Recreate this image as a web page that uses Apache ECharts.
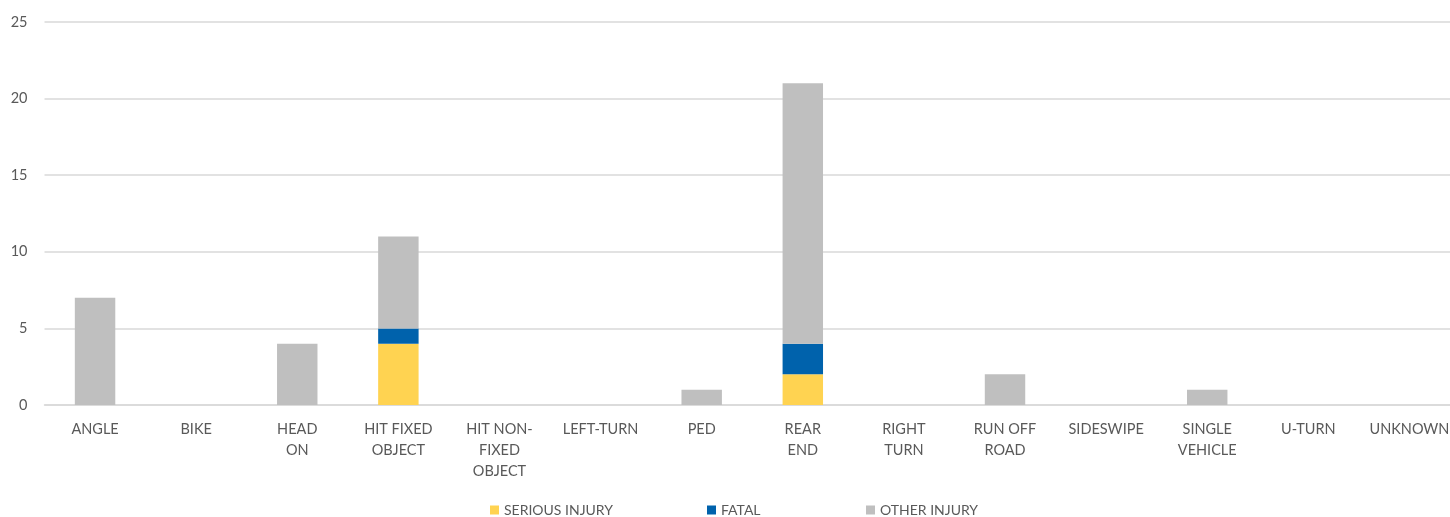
<!DOCTYPE html>
<html><head><meta charset="utf-8">
<script src="https://cdn.jsdelivr.net/npm/echarts@6/dist/echarts.min.js"></script>
<style>html,body{margin:0;padding:0;background:#fff}#c{width:1450px;height:517px}</style>
</head><body><div id="c"></div>
<script>
const categories = ['ANGLE','BIKE','HEAD\nON','HIT FIXED\nOBJECT','HIT NON-\nFIXED\nOBJECT','LEFT-TURN','PED','REAR\nEND','RIGHT\nTURN','RUN OFF\nROAD','SIDESWIPE','SINGLE\nVEHICLE','U-TURN','UNKNOWN'];
const seriousInjury = [0,0,0,4,0,0,0,2,0,0,0,0,0,0];
const fatal         = [0,0,0,1,0,0,0,2,0,0,0,0,0,0];
const otherInjury   = [7,0,4,6,0,0,1,17,0,2,0,1,0,0];
const yTicks = [0,5,10,15,20,25];

const font = 'Lato, "Open Sans", sans-serif';
const chart = echarts.init(document.getElementById('c'));
const mk = (name, data, color) => ({
  name, type:'bar', stack:'a', data, barWidth:'40%',
  itemStyle:{color}, emphasis:{disabled:true}
});
const leg = (name, left) => ({
  data:[name], left, top:503, icon:'rect', itemWidth:9, itemHeight:9, itemGap:0, padding:0,
  textStyle:{color:'#595959', fontSize:14, fontFamily:font}
});
chart.setOption({
  animation:false,
  grid:{left:44.5, width:1415.5, top:22, bottom:112, outerBoundsMode:'none', containLabel:false},
  legend:[leg('SERIOUS INJURY',490), leg('FATAL',707), leg('OTHER INJURY',866)],
  xAxis:{type:'category', data:categories,
    axisLine:{lineStyle:{color:'#d9d9d9', width:1.5}}, axisTick:{show:false},
    axisLabel:{color:'#595959', fontSize:14.5, fontFamily:font, lineHeight:21, margin:14, interval:0}},
  yAxis:{type:'value', min:0, max:25, interval:5,
    axisLabel:{color:'#595959', fontSize:14.5, fontFamily:font, margin:17,
      formatter:v=>yTicks.includes(v)?String(v):''},
    splitLine:{lineStyle:{color:'#d9d9d9', width:1.5}}, axisLine:{show:false}},
  series:[
    mk('SERIOUS INJURY', seriousInjury, '#FFD351'),
    mk('FATAL', fatal, '#0062AC'),
    mk('OTHER INJURY', otherInjury, '#BFBFBF')
  ]
});
</script></body></html>
